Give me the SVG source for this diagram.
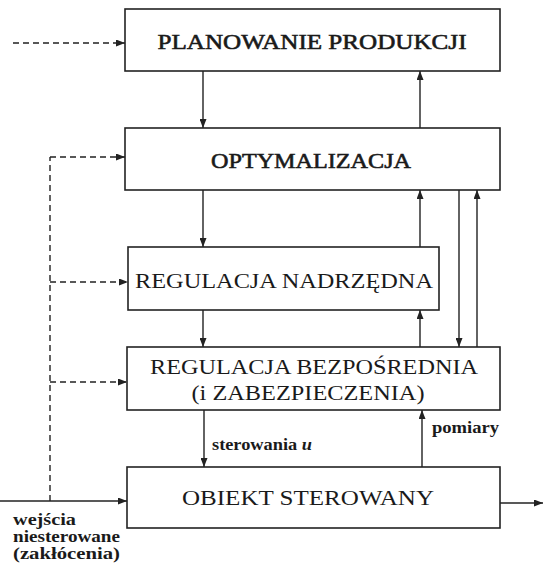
<svg xmlns="http://www.w3.org/2000/svg" width="543" height="566" viewBox="0 0 543 566">
<defs>
<marker id="ah" markerWidth="9" markerHeight="7" refX="9" refY="3.5" orient="auto" markerUnits="userSpaceOnUse">
<path d="M0,0 L9,3.5 L0,7 Z" fill="#222"/>
</marker>
</defs>
<style>
.box{fill:#fff;stroke:#222;stroke-width:1.6}
.t{font-family:"Liberation Serif","Times New Roman",serif;font-size:22px;fill:#1a1a1a;text-anchor:middle}
.h{stroke:#1a1a1a;stroke-width:0.6}
.s{font-family:"Liberation Serif","Times New Roman",serif;font-size:16px;font-weight:bold;fill:#1a1a1a}
.ln{stroke:#222;stroke-width:1.4;fill:none}
.d{stroke:#222;stroke-width:1.4;fill:none;stroke-dasharray:6,4}
</style>
<g id="connectors">
<line class="d" x1="13" y1="43" x2="125" y2="43" marker-end="url(#ah)"/>
<line class="d" x1="50" y1="501" x2="50" y2="157"/>
<line class="d" x1="50" y1="157" x2="125" y2="157" marker-end="url(#ah)"/>
<line class="d" x1="50" y1="282" x2="128" y2="282" marker-end="url(#ah)"/>
<line class="d" x1="50" y1="382" x2="127" y2="382" marker-end="url(#ah)"/>
<line class="ln" x1="0" y1="501" x2="127" y2="501" marker-end="url(#ah)"/>
<line class="ln" x1="500" y1="503" x2="543" y2="503" marker-end="url(#ah)"/>
<line class="ln" x1="203" y1="71" x2="203" y2="128" marker-end="url(#ah)"/>
<line class="ln" x1="420" y1="128" x2="420" y2="71" marker-end="url(#ah)"/>
<line class="ln" x1="203" y1="190" x2="203" y2="247" marker-end="url(#ah)"/>
<line class="ln" x1="420" y1="247" x2="420" y2="190" marker-end="url(#ah)"/>
<line class="ln" x1="459" y1="190" x2="459" y2="347" marker-end="url(#ah)"/>
<line class="ln" x1="477" y1="347" x2="477" y2="190" marker-end="url(#ah)"/>
<line class="ln" x1="203" y1="310" x2="203" y2="347" marker-end="url(#ah)"/>
<line class="ln" x1="420" y1="347" x2="420" y2="310" marker-end="url(#ah)"/>
<line class="ln" x1="204" y1="410" x2="204" y2="467" marker-end="url(#ah)"/>
<line class="ln" x1="422" y1="467" x2="422" y2="410" marker-end="url(#ah)"/>
</g>
<g id="planowanie">
<rect class="box" x="125" y="9" width="375" height="62"/>
<text class="t h" x="312" y="49" textLength="309" lengthAdjust="spacingAndGlyphs">PLANOWANIE PRODUKCJI</text>
</g>
<g id="optymalizacja">
<rect class="box" x="125" y="128" width="375" height="62"/>
<text class="t h" x="311" y="168" textLength="200" lengthAdjust="spacingAndGlyphs">OPTYMALIZACJA</text>
</g>
<g id="regulacja-nadrzedna">
<rect class="box" x="128" y="247" width="311" height="63"/>
<text class="t" x="284" y="288" textLength="298" lengthAdjust="spacingAndGlyphs">REGULACJA NADRZĘDNA</text>
</g>
<g id="regulacja-bezposrednia">
<rect class="box" x="127" y="347" width="373" height="63"/>
<text class="t" x="314" y="374" textLength="328" lengthAdjust="spacingAndGlyphs">REGULACJA BEZPOŚREDNIA</text>
<text class="t" x="308" y="400" textLength="233" lengthAdjust="spacingAndGlyphs">(i ZABEZPIECZENIA)</text>
</g>
<g id="obiekt">
<rect class="box" x="127" y="467" width="373" height="61"/>
<text class="t" x="308" y="505" textLength="252" lengthAdjust="spacingAndGlyphs">OBIEKT STEROWANY</text>
</g>
<g id="labels">
<text class="s" x="212" y="450" textLength="100" lengthAdjust="spacingAndGlyphs">sterowania <tspan font-style="italic">u</tspan></text>
<text class="s" x="432" y="433" textLength="67" lengthAdjust="spacingAndGlyphs">pomiary</text>
<text class="s" x="13" y="525" textLength="63" lengthAdjust="spacingAndGlyphs">wejścia</text>
<text class="s" x="13" y="542" textLength="107" lengthAdjust="spacingAndGlyphs">niesterowane</text>
<text class="s" x="13" y="559" textLength="107" lengthAdjust="spacingAndGlyphs">(zakłócenia)</text>
</g>
</svg>
